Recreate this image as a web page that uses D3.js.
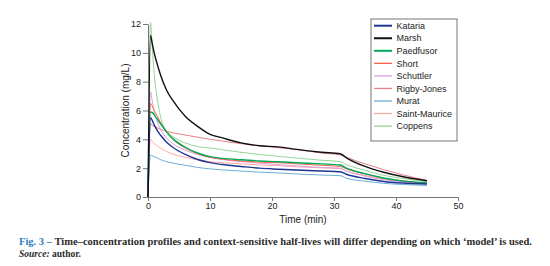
<!DOCTYPE html>
<html>
<head>
<meta charset="utf-8">
<script src="https://cdn.jsdelivr.net/npm/d3@7"></script>
<style>
  body { margin: 0; background: #fff; }
  .axis path, .axis line { stroke: #777; }
  .axis text { font-family: "Liberation Sans", Arial, sans-serif; font-size: 9px; fill: #222; }
</style>
</head>
<body>
<div id="chart"></div>
<script>

      // time points (min)
      var times = [0, 0.4, 0.7, 1, 1.5, 2, 3, 4, 6, 8, 10, 12, 15, 18, 21, 24, 28, 31, 32, 35, 38, 41, 45];

      var names = ["Kataria", "Marsh", "Paedfusor", "Short", "Schuttler", "Rigby-Jones", "Murat", "Saint-Maurice", "Coppens"];
      var colors = ["#1f3596", "#111111", "#00a85a", "#ff6347", "#dc9ee0", "#e8808c", "#6aaed8", "#ffa8a0", "#96d496"];

      // concentration (mg/L) per model
      var kataria      = [0, 5.5, 5.3, 5.0, 4.6, 4.3, 3.8, 3.45, 2.95, 2.6, 2.38, 2.25, 2.12, 2.0, 1.93, 1.87, 1.8, 1.75, 1.58, 1.28, 1.08, 0.97, 0.9];
      var marsh        = [0, 11.2, 10.6, 10.0, 9.2, 8.5, 7.4, 6.7, 5.6, 4.9, 4.35, 4.1, 3.75, 3.55, 3.48, 3.3, 3.1, 3.0, 2.72, 2.12, 1.72, 1.42, 1.13];
      var paedfusor    = [0, 5.9, 5.85, 5.7, 5.4, 5.1, 4.5, 4.05, 3.45, 3.05, 2.8, 2.68, 2.58, 2.5, 2.45, 2.38, 2.3, 2.22, 2.0, 1.62, 1.32, 1.12, 0.98];
      var short        = [0, 6.5, 6.3, 6.0, 5.6, 5.2, 4.5, 4.0, 3.4, 3.0, 2.75, 2.62, 2.5, 2.42, 2.38, 2.3, 2.2, 2.12, 1.95, 1.6, 1.3, 1.12, 0.95];
      var schuttler    = [0, 7.3, 6.6, 5.9, 5.2, 4.7, 4.1, 3.7, 3.25, 2.95, 2.75, 2.6, 2.45, 2.35, 2.25, 2.15, 2.05, 2.0, 1.8, 1.45, 1.2, 1.05, 0.92];
      var rigbyJones   = [0, 5.1, 4.95, 4.9, 4.8, 4.7, 4.55, 4.45, 4.3, 4.15, 4.0, 3.88, 3.7, 3.55, 3.42, 3.3, 3.05, 2.92, 2.75, 2.3, 1.9, 1.55, 1.15];
      var murat        = [0, 2.9, 2.85, 2.8, 2.7, 2.6, 2.45, 2.35, 2.2, 2.05, 1.95, 1.88, 1.8, 1.72, 1.67, 1.6, 1.52, 1.48, 1.3, 1.1, 0.95, 0.87, 0.8];
      var saintMaurice = [0, 4.0, 3.85, 3.7, 3.55, 3.4, 3.15, 2.98, 2.75, 2.58, 2.45, 2.38, 2.3, 2.22, 2.17, 2.1, 2.02, 1.97, 1.8, 1.5, 1.25, 1.08, 0.95];
      var coppens      = [0, 12.1, 10.3, 8.5, 6.8, 5.6, 4.6, 4.2, 3.75, 3.5, 3.4, 3.28, 3.1, 2.95, 2.82, 2.7, 2.55, 2.45, 2.25, 1.85, 1.5, 1.3, 1.05];

      var seriesValues = [kataria, marsh, paedfusor, short, schuttler, rigbyJones, murat, saintMaurice, coppens];
      var thick = ["Kataria", "Marsh", "Paedfusor"];

      var xTicks = [0, 10, 20, 30, 40, 50];
      var yTicks = [0, 2, 4, 6, 8, 10, 12];

      var margin = {top: 24, left: 148};
      var width = 310,
          height = 173;

      var svg = d3.select("#chart").append("svg")
          .attr("width", 550)
          .attr("height", 266);

      var canvas = svg.append("g")
          .attr("transform", "translate(" + margin.left + "," + margin.top + ")");

      ////// Define Scales /////////////////
      var xScale = d3.scaleLinear()
          .domain([0, 50])
          .range([0, width]);
      var yScale = d3.scaleLinear()
          .domain([0, 12])
          .range([height, 0]);

      /////// Axes //////////////////////////////
      canvas.append("g")
          .attr("class", "x axis")
          .attr("transform", "translate(0," + height + ")")
          .call(d3.axisBottom(xScale).tickValues(xTicks).tickSize(4).tickSizeOuter(0).tickPadding(2));

      canvas.append("g")
          .attr("class", "y axis")
          .call(d3.axisLeft(yScale).tickValues(yTicks).tickSize(5).tickSizeOuter(0).tickPadding(2));

      // axis titles
      svg.append("text")
          .attr("x", margin.left + width / 2)
          .attr("y", 223)
          .attr("text-anchor", "middle")
          .style("font-family", "Liberation Sans, Arial, sans-serif")
          .style("font-size", "10px")
          .attr("fill", "#222")
          .text("Time (min)");

      svg.append("text")
          .attr("transform", "translate(129," + (margin.top + height / 2) + ") rotate(-90)")
          .attr("text-anchor", "middle")
          .style("font-family", "Liberation Sans, Arial, sans-serif")
          .style("font-size", "10px")
          .attr("fill", "#222")
          .text("Concentration (mg/L)");

      // lines
      var line = d3.line()
          .x(function(d) { return xScale(d.t); })
          .y(function(d) { return yScale(d.v); })
          .curve(d3.curveMonotoneX);

      var drawOrder = [8, 7, 6, 5, 4, 3, 2, 0, 1];
      drawOrder.forEach(function(i) {
          var pts = times.map(function(t, k) { return {t: t, v: seriesValues[i][k]}; });
          canvas.append("path")
              .datum(pts)
              .attr("fill", "none")
              .attr("stroke", colors[i])
              .attr("stroke-width", thick.indexOf(names[i]) >= 0 ? 1.4 : 1)
              .attr("d", line);
      });

      // legend
      var legend = svg.append("g")
          .attr("transform", "translate(371,19)");

      legend.append("rect")
          .attr("width", 86)
          .attr("height", 122)
          .attr("fill", "#fff")
          .attr("stroke", "#777")
          .attr("stroke-width", 1);

      var rows = legend.selectAll(".row")
          .data(names)
          .enter()
          .append("g")
          .attr("transform", function(d, i) { return "translate(0," + (6.7 + i * 12.55) + ")"; });

      rows.append("line")
          .attr("x1", 3)
          .attr("x2", 21)
          .attr("stroke", function(d, i) { return colors[i]; })
          .attr("stroke-width", function(d) { return thick.indexOf(d) >= 0 ? 2 : 1.3; });

      rows.append("text")
          .attr("x", 25.5)
          .attr("y", 3.2)
          .style("font-family", "Liberation Sans, Arial, sans-serif")
          .style("font-size", "9px")
          .attr("fill", "#222")
          .text(function(d) { return d; });

      // caption
      var cap = svg.append("text")
          .attr("x", 19)
          .attr("y", 245)
          .attr("textLength", 513)
          .attr("lengthAdjust", "spacingAndGlyphs")
          .style("font-family", "Liberation Serif, serif")
          .style("font-size", "9.5px")
          .style("font-weight", "bold")
          .attr("fill", "#2b2b2b");
      cap.append("tspan").attr("fill", "#2f7fbf").text("Fig. 3 \u2013 ");
      cap.append("tspan").text("Time\u2013concentration profiles and context-sensitive half-lives will differ depending on which \u2018model\u2019 is used.");

      var src = svg.append("text")
          .attr("x", 19)
          .attr("y", 257)
          .style("font-family", "Liberation Serif, serif")
          .style("font-size", "9.5px")
          .style("font-weight", "bold")
          .attr("fill", "#2b2b2b");
      src.append("tspan").style("font-style", "italic").text("Source:");
      src.append("tspan").text(" author.");

</script>
</body>
</html>
